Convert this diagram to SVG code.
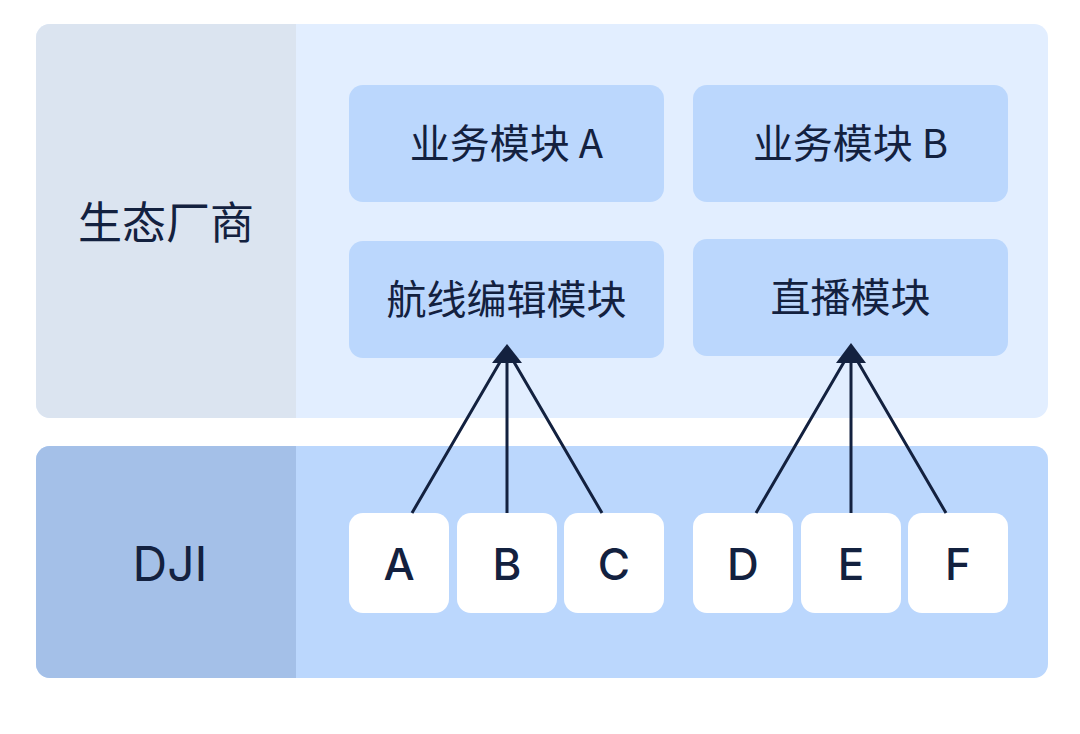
<svg xmlns="http://www.w3.org/2000/svg" width="1080" height="734" viewBox="0 0 1080 734">
<defs>
<style>
.cjk{font-family:"Noto Sans CJK SC","Noto Sans",sans-serif;fill:#13213f;text-anchor:middle}
.lat{font-family:Inter,"Liberation Sans",sans-serif;fill:#13213f;text-anchor:middle}
.mod{fill:#bbd7fd}
.key{fill:#ffffff}
.conn{stroke:#13213f;stroke-width:3;fill:none}
.head{fill:#13213f}
</style>
</defs>
<rect width="1080" height="734" fill="#ffffff"/>
<g id="layer-eco">
<rect x="36" y="24" width="1012" height="394" rx="14" fill="#e2eeff"/>
<path d="M50,24 H296 V418 H50 A14,14 0 0 1 36,404 V38 A14,14 0 0 1 50,24 Z" fill="#dbe4f0"/>
<text class="cjk" x="166" y="239" font-size="44">生态厂商</text>
</g>
<g id="layer-dji">
<rect x="36" y="446" width="1012" height="232" rx="14" fill="#bbd7fd"/>
<path d="M50,446 H296 V678 H50 A14,14 0 0 1 36,664 V460 A14,14 0 0 1 50,446 Z" fill="#a4c0e8"/>
<text class="lat" x="170" y="581" font-size="48">DJI</text>
</g>
<g id="mod-a"><rect class="mod" x="349" y="85" width="315" height="117" rx="14"/><text class="cjk" x="506.5" y="158" font-size="40">业务模块 A</text></g>
<g id="mod-b"><rect class="mod" x="693" y="85" width="315" height="117" rx="14"/><text class="cjk" x="850.5" y="158" font-size="40">业务模块 B</text></g>
<g id="mod-route"><rect class="mod" x="349" y="241" width="315" height="117" rx="14"/><text class="cjk" x="506.5" y="314" font-size="40">航线编辑模块</text></g>
<g id="mod-live"><rect class="mod" x="693" y="239" width="315" height="117" rx="14"/><text class="cjk" x="850.5" y="312" font-size="40">直播模块</text></g>
<g id="key-a"><rect class="key" x="349" y="513" width="100" height="100" rx="14"/><text class="lat" x="399" y="580" font-size="44" font-weight="500">A</text></g>
<g id="key-b"><rect class="key" x="457" y="513" width="100" height="100" rx="14"/><text class="lat" x="507" y="580" font-size="44" font-weight="500">B</text></g>
<g id="key-c"><rect class="key" x="564" y="513" width="100" height="100" rx="14"/><text class="lat" x="614" y="580" font-size="44" font-weight="500">C</text></g>
<g id="key-d"><rect class="key" x="693" y="513" width="100" height="100" rx="14"/><text class="lat" x="743" y="580" font-size="44" font-weight="500">D</text></g>
<g id="key-e"><rect class="key" x="801" y="513" width="100" height="100" rx="14"/><text class="lat" x="851" y="580" font-size="44" font-weight="500">E</text></g>
<g id="key-f"><rect class="key" x="908" y="513" width="100" height="100" rx="14"/><text class="lat" x="958" y="580" font-size="44" font-weight="500">F</text></g>
<g id="connectors">
<path class="conn" d="M412,513 L507,350 M507,513 L507,350 M602,513 L507,350"/>
<polygon class="head" points="507,344 492,363 522,363"/>
<path class="conn" d="M756,513 L851,350 M851,513 L851,350 M946,513 L851,350"/>
<polygon class="head" points="851,343 836,363 866,363"/>
</g>
</svg>
